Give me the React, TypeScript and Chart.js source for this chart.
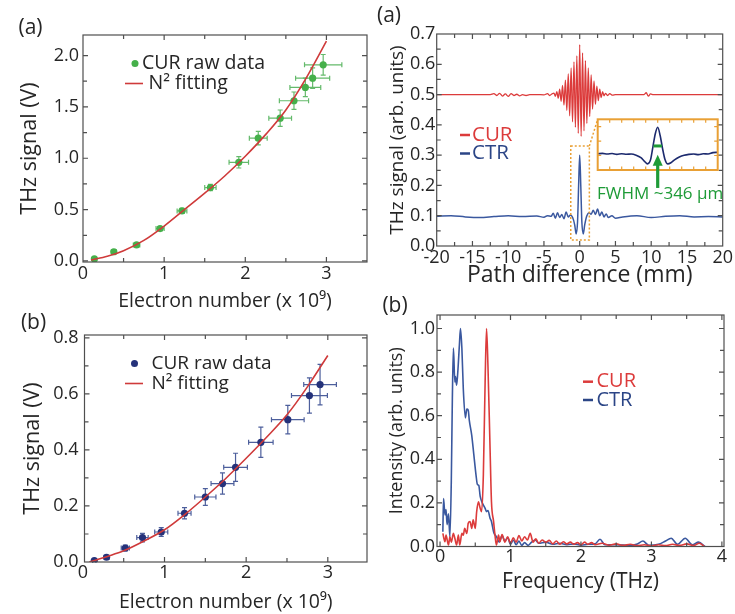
import React, { useEffect, useRef } from "react";
import { Chart, registerables } from "chart.js";

Chart.register(...registerables);

const FONT = "'Open Sans', 'Noto Sans', 'DejaVu Sans', sans-serif";
const INK = "#262626";
const FRAME = "#4f4f4f";
const GREEN = "#45b04a";
const GREEN_ERR = "#64ba6b";
const NAVY = "#25327a";
const NAVY_ERR = "#4d5f9c";
const FIT_RED = "#cf3a3a";
const CUR_RED = "#dc3b3b";
const CTR_BLUE = "#3a589f";
const CTR_TEXT = "#2b4586";
const ORANGE = "#e9a035";
const ARROW_GREEN = "#1e9b37";

// ---------- Panel (a) left : CUR raw data (green) ----------
const aElectron = [0.14, 0.38, 0.66, 0.95, 1.22, 1.57, 1.92, 2.16, 2.43, 2.6, 2.74, 2.83, 2.96];
const aSignal = [0.02, 0.09, 0.156, 0.315, 0.487, 0.715, 0.96, 1.196, 1.39, 1.56, 1.69, 1.78, 1.91];
const aElectronErr = [0.02, 0.03, 0.04, 0.05, 0.06, 0.07, 0.12, 0.11, 0.14, 0.18, 0.19, 0.21, 0.23];
const aSignalErr = [0.005, 0.01, 0.015, 0.02, 0.025, 0.03, 0.055, 0.065, 0.08, 0.085, 0.09, 0.1, 0.1];
const aFitElectron = [0.1, 0.3, 0.5, 0.75, 1.0, 1.25, 1.5, 1.75, 2.0, 2.25, 2.5, 2.75, 3.0];
const aFitSignal = [0.01, 0.045, 0.1, 0.2, 0.34, 0.5, 0.66, 0.83, 1.02, 1.23, 1.47, 1.78, 2.14];
const aXTicks = [0, 1, 2, 3];
const aXLabels = ["0", "1", "2", "3"];
const aXMinor = [0.5, 1.5, 2.5];
const aYTicks = [0, 0.5, 1, 1.5, 2];
const aYLabels = ["0.0", "0.5", "1.0", "1.5", "2.0"];
const aYMinor = [0.25, 0.75, 1.25, 1.75];

// ---------- Panel (b) left : CUR raw data (navy) ----------
const bElectron = [0.14, 0.29, 0.52, 0.73, 0.96, 1.245, 1.5, 1.71, 1.87, 2.18, 2.51, 2.775, 2.905];
const bSignal = [0.005, 0.017, 0.05, 0.087, 0.107, 0.174, 0.232, 0.28, 0.338, 0.427, 0.508, 0.594, 0.633];
const bElectronErr = [0.02, 0.03, 0.05, 0.07, 0.08, 0.08, 0.13, 0.14, 0.145, 0.15, 0.2, 0.22, 0.2];
const bSignalErr = [0.004, 0.006, 0.01, 0.015, 0.016, 0.02, 0.03, 0.038, 0.05, 0.054, 0.051, 0.063, 0.072];
const bFitElectron = [0.08, 0.3, 0.5, 0.75, 1.0, 1.25, 1.5, 1.75, 2.0, 2.25, 2.5, 2.75, 3.0];
const bFitSignal = [0.0, 0.02, 0.04, 0.075, 0.115, 0.17, 0.232, 0.298, 0.37, 0.445, 0.525, 0.625, 0.737];
const bXTicks = [0, 1, 2, 3];
const bXLabels = ["0", "1", "2", "3"];
const bXMinor = [0.5, 1.5, 2.5];
const bYTicks = [0, 0.2, 0.4, 0.6, 0.8];
const bYLabels = ["0.0", "0.2", "0.4", "0.6", "0.8"];
const bYMinor = [0.1, 0.3, 0.5, 0.7];

// ---------- Panel (a) right : interferograms ----------
const cCurPath = [
  -20, -12.5, -12, -11.6, -11.2, -10.8, -10.4, -10, -9.6, -9.2,
  -8.8, -8.4, -8, -7.5, -7, -6, -5, -4.5, -4.2, -3.9,
  -3.6, -3.4, -3.2, -3.0, -2.8, -2.6, -2.4, -2.2, -2.0, -1.8,
  -1.6, -1.4, -1.2, -1.0, -0.8, -0.6, -0.4, -0.2, 0, 0.2,
  0.4, 0.6, 0.8, 1.0, 1.2, 1.4, 1.6, 1.8, 2.0, 2.2,
  2.4, 2.6, 2.8, 3.0, 3.2, 3.4, 3.6,
  3.9, 4.2, 4.6, 5, 6, 9, 9.3, 9.6, 9.9, 10.3, 11, 20,
];
const cCurSignal = [
  0.5, 0.5, 0.503, 0.497, 0.504, 0.495, 0.502, 0.494, 0.503, 0.497,
  0.501, 0.496, 0.5, 0.497, 0.5, 0.5, 0.499, 0.503, 0.497, 0.502,
  0.505, 0.494, 0.51, 0.488, 0.518, 0.478, 0.53, 0.465, 0.548, 0.448,
  0.568, 0.43, 0.588, 0.41, 0.608, 0.392, 0.628, 0.372, 0.665, 0.362,
  0.638, 0.38, 0.612, 0.405, 0.588, 0.428, 0.565, 0.452, 0.545, 0.468,
  0.528, 0.48, 0.518, 0.49, 0.51, 0.496, 0.504,
  0.497, 0.503, 0.498, 0.5, 0.5, 0.5, 0.506, 0.495, 0.502, 0.5, 0.5, 0.5,
];
const cCtrPath = [
  -20, -18, -16, -14, -12, -10, -8, -6, -5, -4.5,
  -4, -3.7, -3.4, -3.1, -2.8, -2.5, -2.2, -1.9, -1.6, -1.3,
  -1.0, -0.7, -0.5, -0.3, -0.15, 0, 0.15, 0.3, 0.5, 0.7,
  1.0, 1.3, 1.6, 1.9, 2.2, 2.5, 2.8, 3.1, 3.4, 3.7,
  4, 4.5, 5, 6, 8, 10, 12, 14, 16, 18, 20,
];
const cCtrSignal = [
  0.098, 0.1, 0.096, 0.094, 0.097, 0.1, 0.097, 0.099, 0.095, 0.1,
  0.098, 0.108, 0.092, 0.11, 0.094, 0.104, 0.09, 0.112, 0.096, 0.102,
  0.095, 0.07, 0.04, 0.08, 0.2, 0.3, 0.2, 0.08, 0.04, 0.07,
  0.1, 0.11, 0.105, 0.118, 0.104, 0.122, 0.1, 0.112, 0.096, 0.106,
  0.094, 0.1, 0.092, 0.096, 0.1, 0.094, 0.098, 0.1, 0.096, 0.097, 0.096,
];
const cXTicks = [-20, -15, -10, -5, 0, 5, 10, 15, 20];
const cXLabels = ["-20", "-15", "-10", "-5", "0", "5", "10", "15", "20"];
const cXMinor = [-17.5, -12.5, -7.5, -2.5, 2.5, 7.5, 12.5, 17.5];
const cYTicks = [0, 0.1, 0.2, 0.3, 0.4, 0.5, 0.6, 0.7];
const cYLabels = ["0.0", "0.1", "0.2", "0.3", "0.4", "0.5", "0.6", "0.7"];
const cYMinor = [0.05, 0.15, 0.25, 0.35, 0.45, 0.55, 0.65];

// inset (zoomed CTR peak, arbitrary inset units)
const insetPos = [-5, -4.6, -4.2, -3.8, -3.4, -3.0, -2.6, -2.2, -1.8, -1.4, -1.1, -0.85, -0.6, -0.4, -0.2, 0, 0.2, 0.4, 0.6, 0.85, 1.1, 1.4, 1.8, 2.2, 2.6, 3.0, 3.4, 3.8, 4.2, 4.6, 5];
const insetSignal = [1.12, 1.15, 1.1, 1.14, 1.08, 1.12, 1.09, 1.1, 1.02, 0.85, 0.6, 0.42, 0.7, 1.6, 2.5, 2.95, 2.4, 1.5, 0.75, 0.42, 0.5, 0.7, 0.9, 1.02, 1.08, 1.1, 1.06, 1.12, 1.1, 1.2, 1.22];
const insetXMinor = [-4, -3, -2, -1, 0, 1, 2, 3, 4];
const insetYMinor = [1, 2, 3];

// ---------- Panel (b) right : spectra ----------
const dCurFreq = [
  0.04, 0.07, 0.085, 0.12, 0.14, 0.16, 0.19, 0.21, 0.235, 0.26,
  0.28, 0.31, 0.33, 0.35, 0.38, 0.4, 0.425, 0.45, 0.47, 0.5,
  0.52, 0.545, 0.57, 0.59, 0.615, 0.64, 0.66, 0.68, 0.71, 0.73,
  0.76, 0.78, 0.8, 0.83, 0.85, 0.88, 0.92, 0.96, 1.0, 1.04,
  1.08, 1.12, 1.16, 1.2, 1.24, 1.28, 1.32, 1.36, 1.4, 1.45,
  1.5, 1.55, 1.6, 1.65, 1.7, 1.75, 1.8, 1.85, 1.9, 1.95,
  2.0, 2.05, 2.1, 2.15, 2.2, 2.3, 2.4, 2.5, 2.6, 2.7,
  2.8, 2.9, 3.0, 3.1, 3.2, 3.3, 3.4, 3.5, 3.6, 3.68, 3.75,
];
const dCurIntensity = [
  0.06, 0.022, 0.052, 0.007, 0.045, 0.02, 0.06, 0.038, 0.007, 0.052,
  0.007, 0.06, 0.052, 0.083, 0.06, 0.107, 0.115, 0.083, 0.122, 0.083,
  0.16, 0.205, 0.175, 0.16, 0.33, 0.755, 1.0, 0.83, 0.45, 0.205,
  0.115, 0.052, 0.007, 0.052, 0.022, 0.055, 0.02, 0.045, 0.015, 0.04,
  0.02, 0.05, 0.025, 0.045, 0.03, 0.06, 0.02, 0.035, 0.015, 0.03,
  0.02, 0.028, 0.012, 0.025, 0.01, 0.022, 0.012, 0.02, 0.01, 0.018,
  0.008, 0.02, 0.01, 0.018, 0.008, 0.015, 0.006, 0.012, 0.005, 0.01,
  0.004, 0.008, 0.003, 0.008, 0.004, 0.01, 0.005, 0.012, 0.004, 0.015, 0.0,
];
const dCtrFreq = [
  0.04, 0.05, 0.07, 0.085, 0.1, 0.12, 0.14, 0.16, 0.175, 0.19,
  0.21, 0.22, 0.235, 0.25, 0.275, 0.29, 0.31, 0.33, 0.36, 0.38,
  0.4, 0.415, 0.45, 0.48, 0.51, 0.53, 0.55, 0.57, 0.6, 0.64,
  0.66, 0.68, 0.71, 0.73, 0.76, 0.78, 0.8, 0.84, 0.88, 0.92,
  0.96, 1.0, 1.04, 1.08, 1.12, 1.16, 1.2, 1.25, 1.3, 1.35,
  1.4, 1.5, 1.6, 1.7, 1.8, 1.9, 2.0, 2.1, 2.2, 2.27,
  2.34, 2.5, 2.7, 2.8, 2.88, 2.96, 3.1, 3.2, 3.28, 3.37,
  3.48, 3.58, 3.67, 3.76,
];
const dCtrIntensity = [
  0.068, 0.22, 0.145, 0.17, 0.1, 0.15, 0.045, 0.3, 0.68, 0.91,
  0.755, 0.78, 0.74, 0.79, 0.925, 1.0, 0.91, 0.725, 0.59, 0.63,
  0.626, 0.58, 0.51, 0.42, 0.33, 0.285, 0.28, 0.23, 0.2, 0.175,
  0.16, 0.165, 0.13, 0.115, 0.068, 0.053, 0.045, 0.02, 0.05, 0.025,
  0.04, 0.01, 0.03, 0.008, 0.025, 0.005, 0.018, 0.005, 0.02, 0.03,
  0.015, 0.02, 0.01, 0.015, 0.008, 0.012, 0.006, 0.01, 0.012, 0.033,
  0.008, 0.008, 0.005, 0.012, 0.025, 0.006, 0.01, 0.025, 0.038, 0.01,
  0.038, 0.008, 0.02, 0.0,
];
const dXTicks = [0, 1, 2, 3, 4];
const dXLabels = ["0", "1", "2", "3", "4"];
const dXMinor = [0.5, 1.5, 2.5, 3.5];
const dYTicks = [0, 0.2, 0.4, 0.6, 0.8, 1.0];
const dYLabels = ["0.0", "0.2", "0.4", "0.6", "0.8", "1.0"];
const dYMinor = [0.1, 0.3, 0.5, 0.7, 0.9];

// ---------- helpers ----------
type Axis = {
  min: number; max: number; ticks: number[]; labels: string[]; minor: number[];
  title: string; titleSize: number; titlePad: number; tickPad: number;
};
type ErrSet = { xs: number[]; ys: number[]; ex: number[]; ey: number[]; color: string };
type Spec = {
  box: number[]; // canvas left, top, width, height (page px)
  area: number[]; // plot area left, top, right, bottom (page px)
  x: Axis; y: Axis;
  datasets: any[];
  errors?: ErrSet[];
  decor?: (chart: any, ctx: CanvasRenderingContext2D, box: number[]) => void;
};

const pts = (xs: number[], ys: number[]) => xs.map((v, i) => ({ x: v, y: ys[i] }));

function pText(ctx: CanvasRenderingContext2D, box: number[], s: string, x: number, y: number, color: string, size: number, align: CanvasTextAlign = "left") {
  ctx.save();
  ctx.font = `${size}px ${FONT}`;
  ctx.fillStyle = color;
  ctx.textAlign = align;
  ctx.textBaseline = "middle";
  ctx.fillText(s, x - box[0], y - box[1]);
  ctx.restore();
}
function pLine(ctx: CanvasRenderingContext2D, box: number[], x1: number, y1: number, x2: number, y2: number, color: string, w: number) {
  ctx.save();
  ctx.strokeStyle = color;
  ctx.lineWidth = w;
  ctx.beginPath();
  ctx.moveTo(x1 - box[0], y1 - box[1]);
  ctx.lineTo(x2 - box[0], y2 - box[1]);
  ctx.stroke();
  ctx.restore();
}
function pDot(ctx: CanvasRenderingContext2D, box: number[], x: number, y: number, r: number, color: string) {
  ctx.save();
  ctx.fillStyle = color;
  ctx.beginPath();
  ctx.arc(x - box[0], y - box[1], r, 0, Math.PI * 2);
  ctx.fill();
  ctx.restore();
}

function makeChart(canvas: HTMLCanvasElement, spec: Spec) {
  const [bl, bt, bw, bh] = spec.box;
  const [al, at, ar, ab] = spec.area;
  const axisOpts = (ax: Axis, horizontal: boolean) => ({
    type: "linear",
    min: ax.min,
    max: ax.max,
    position: horizontal ? "bottom" : "left",
    grid: { display: false, drawTicks: false },
    border: { display: false },
    ticks: {
      padding: ax.tickPad,
      color: INK,
      font: { family: FONT, size: 18 },
      maxRotation: 0,
      minRotation: 0,
      autoSkip: false,
      callback: (v: number) => {
        const i = ax.ticks.indexOf(v);
        return i >= 0 ? ax.labels[i] : "";
      },
    },
    afterBuildTicks: (s: any) => {
      s.ticks = ax.ticks.map((v) => ({ value: v }));
    },
    afterFit: (s: any) => {
      if (horizontal) s.height = bt + bh - ab;
      else s.width = al - bl;
    },
    title: {
      display: true,
      text: ax.title,
      color: INK,
      font: { family: FONT, size: ax.titleSize, lineHeight: 1 },
      padding: horizontal ? { top: 0, bottom: ax.titlePad } : { top: ax.titlePad, bottom: 0 },
    },
  });

  const framePlugin = {
    id: "frameTicks",
    beforeDatasetsDraw(chart: any) {
      const { ctx, scales } = chart;
      (spec.errors || []).forEach((e) => {
        ctx.save();
        ctx.strokeStyle = e.color;
        ctx.lineWidth = 1.2;
        e.xs.forEach((xv, i) => {
          const yv = e.ys[i];
          const px = scales.x.getPixelForValue(xv);
          const py = scales.y.getPixelForValue(yv);
          const x1 = scales.x.getPixelForValue(xv - e.ex[i]);
          const x2 = scales.x.getPixelForValue(xv + e.ex[i]);
          const y1 = scales.y.getPixelForValue(yv - e.ey[i]);
          const y2 = scales.y.getPixelForValue(yv + e.ey[i]);
          const c = 2.5;
          ctx.beginPath();
          ctx.moveTo(x1, py); ctx.lineTo(x2, py);
          ctx.moveTo(x1, py - c); ctx.lineTo(x1, py + c);
          ctx.moveTo(x2, py - c); ctx.lineTo(x2, py + c);
          ctx.moveTo(px, y1); ctx.lineTo(px, y2);
          ctx.moveTo(px - c, y1); ctx.lineTo(px + c, y1);
          ctx.moveTo(px - c, y2); ctx.lineTo(px + c, y2);
          ctx.stroke();
        });
        ctx.restore();
      });
    },
    afterDatasetsDraw(chart: any) {
      const { ctx, chartArea, scales } = chart;
      const { left, top, right, bottom } = chartArea;
      ctx.save();
      ctx.strokeStyle = FRAME;
      ctx.lineWidth = 1.2;
      ctx.strokeRect(left, top, right - left, bottom - top);
      const xs = [...spec.x.ticks.map((v) => [v, 5]), ...spec.x.minor.map((v) => [v, 4])];
      const ys = [...spec.y.ticks.map((v) => [v, 5]), ...spec.y.minor.map((v) => [v, 4])];
      ctx.beginPath();
      xs.forEach(([v, len]) => {
        const p = scales.x.getPixelForValue(v);
        if (p <= left + 1 || p >= right - 1) return;
        ctx.moveTo(p, bottom); ctx.lineTo(p, bottom - len);
        ctx.moveTo(p, top); ctx.lineTo(p, top + len);
      });
      ys.forEach(([v, len]) => {
        const p = scales.y.getPixelForValue(v);
        if (p <= top + 1 || p >= bottom - 1) return;
        ctx.moveTo(left, p); ctx.lineTo(left + len, p);
        ctx.moveTo(right, p); ctx.lineTo(right - len, p);
      });
      ctx.stroke();
      ctx.restore();
    },
    afterDraw(chart: any) {
      if (spec.decor) spec.decor(chart, chart.ctx, spec.box);
    },
  };

  return new Chart(canvas, {
    type: "scatter",
    data: { datasets: spec.datasets },
    options: {
      responsive: false,
      maintainAspectRatio: false,
      animation: false,
      layout: { padding: { left: 0, top: at - bt, right: bl + bw - ar, bottom: 0 } },
      plugins: { legend: { display: false }, tooltip: { enabled: false } },
      scales: { x: axisOpts(spec.x, true) as any, y: axisOpts(spec.y, false) as any },
    },
    plugins: [framePlugin],
  } as any);
}

// ---------- specs ----------
const specA: Spec = {
  box: [0, 0, 372, 315],
  area: [83, 35, 367, 262],
  x: { min: 0, max: 3.5, ticks: aXTicks, labels: aXLabels, minor: aXMinor, title: "Electron number (x 10\u2079)", titleSize: 19.5, titlePad: 3.5, tickPad: 1 },
  y: { min: -0.01, max: 2.2, ticks: aYTicks, labels: aYLabels, minor: aYMinor, title: "THz signal (V)", titleSize: 21.5, titlePad: 19.5, tickPad: 4 },
  datasets: [
    { data: pts(aFitElectron, aFitSignal), showLine: true, borderColor: FIT_RED, borderWidth: 1.6, pointRadius: 0, cubicInterpolationMode: "monotone" },
    { data: pts(aElectron, aSignal), showLine: false, pointRadius: 3.6, backgroundColor: GREEN, borderWidth: 0 },
  ],
  errors: [{ xs: aElectron, ys: aSignal, ex: aElectronErr, ey: aSignalErr, color: GREEN_ERR }],
  decor: (chart, ctx, box) => {
    pText(ctx, box, "(a)", 30.5, 28.5, INK, 21, "center");
    pDot(ctx, box, 135, 63.5, 3.5, GREEN);
    pText(ctx, box, "CUR raw data", 142, 63.5, INK, 19.5);
    pLine(ctx, box, 125, 83.5, 143, 83.5, FIT_RED, 1.6);
    pText(ctx, box, "N\u00b2 fitting", 148.5, 83.5, INK, 19.5);
  },
};

const specB: Spec = {
  box: [0, 310, 372, 304],
  area: [84.5, 335, 367, 562],
  x: { min: 0.02, max: 3.48, ticks: bXTicks, labels: bXLabels, minor: bXMinor, title: "Electron number (x 10\u2079)", titleSize: 19.5, titlePad: 1.5, tickPad: 0 },
  y: { min: 0, max: 0.81, ticks: bYTicks, labels: bYLabels, minor: bYMinor, title: "THz signal (V)", titleSize: 21.5, titlePad: 22, tickPad: 6 },
  datasets: [
    { data: pts(bFitElectron, bFitSignal), showLine: true, borderColor: FIT_RED, borderWidth: 1.6, pointRadius: 0, cubicInterpolationMode: "monotone" },
    { data: pts(bElectron, bSignal), showLine: false, pointRadius: 3.6, backgroundColor: NAVY, borderWidth: 0 },
  ],
  errors: [{ xs: bElectron, ys: bSignal, ex: bElectronErr, ey: bSignalErr, color: NAVY_ERR }],
  decor: (chart, ctx, box) => {
    pText(ctx, box, "(b)", 33.5, 323, INK, 21, "center");
    pDot(ctx, box, 134.5, 363.5, 3.5, NAVY);
    pText(ctx, box, "CUR raw data", 151.5, 363.5, INK, 19);
    pLine(ctx, box, 125, 383.5, 143, 383.5, FIT_RED, 1.6);
    pText(ctx, box, "N\u00b2 fitting", 151.5, 383.5, INK, 19);
  },
};

const INSET_BOX = [595, 117, 126, 86];
const INSET_AREA = [597.7, 119.3, 717.7, 170];

const specC: Spec = {
  box: [372, 0, 363, 292],
  area: [436.7, 34, 722.7, 246],
  x: { min: -20, max: 20, ticks: cXTicks, labels: cXLabels, minor: cXMinor, title: "Path difference (mm)", titleSize: 23, titlePad: 5.5, tickPad: 1.5 },
  y: { min: 0, max: 0.7, ticks: cYTicks, labels: cYLabels, minor: cYMinor, title: "THz signal (arb. units)", titleSize: 19, titlePad: 16.5, tickPad: 1.5 },
  datasets: [
    { data: pts(cCurPath, cCurSignal), showLine: true, borderColor: CUR_RED, borderWidth: 1.3, pointRadius: 0, cubicInterpolationMode: "monotone" },
    { data: pts(cCtrPath, cCtrSignal), showLine: true, borderColor: CTR_BLUE, borderWidth: 1.5, pointRadius: 0, cubicInterpolationMode: "monotone" },
  ],
  decor: (chart, ctx, box) => {
    const { x, y } = chart.scales;
    const bx1 = x.getPixelForValue(-1.25), bx2 = x.getPixelForValue(1.35);
    const by1 = y.getPixelForValue(0.33), by2 = y.getPixelForValue(0.02);
    ctx.save();
    ctx.strokeStyle = ORANGE;
    ctx.lineWidth = 1.5;
    ctx.setLineDash([2, 2]);
    ctx.strokeRect(bx1, by1, bx2 - bx1, by2 - by1);
    ctx.beginPath();
    ctx.moveTo(bx2, by1);
    ctx.lineTo(INSET_AREA[0] - box[0], INSET_AREA[1] - box[1]);
    ctx.stroke();
    ctx.restore();
    pText(ctx, box, "FWHM ~346 \u00b5m", 597, 194, ARROW_GREEN, 17);
    pText(ctx, box, "(a)", 389, 16, INK, 21, "center");
    pLine(ctx, box, 460, 135, 470, 135, CUR_RED, 2.5);
    pText(ctx, box, "CUR", 472, 135, CUR_RED, 20.5);
    pLine(ctx, box, 460, 153.5, 470, 153.5, CTR_TEXT, 2.5);
    pText(ctx, box, "CTR", 472, 153.5, CTR_TEXT, 20.5);
  },
};

const specD: Spec = {
  box: [372, 295, 363, 319],
  area: [437, 315, 724, 546.5],
  x: { min: -0.043, max: 4.03, ticks: dXTicks, labels: dXLabels, minor: dXMinor, title: "Frequency (THz)", titleSize: 21, titlePad: 21, tickPad: 0 },
  y: { min: 0, max: 1.062, ticks: dYTicks, labels: dYLabels, minor: dYMinor, title: "Intensity (arb. units)", titleSize: 18, titlePad: 15.7, tickPad: 2 },
  datasets: [
    { data: pts(dCurFreq, dCurIntensity), showLine: true, borderColor: CUR_RED, borderWidth: 1.6, pointRadius: 0, cubicInterpolationMode: "monotone" },
    { data: pts(dCtrFreq, dCtrIntensity), showLine: true, borderColor: CTR_BLUE, borderWidth: 1.6, pointRadius: 0, cubicInterpolationMode: "monotone" },
  ],
  decor: (chart, ctx, box) => {
    pText(ctx, box, "(b)", 395, 306, INK, 21, "center");
    pLine(ctx, box, 583, 381.7, 593, 381.7, CUR_RED, 2.5);
    pText(ctx, box, "CUR", 596.5, 381.7, CUR_RED, 20);
    pLine(ctx, box, 583, 400, 593, 400, CTR_TEXT, 2.5);
    pText(ctx, box, "CTR", 596.5, 400, CTR_TEXT, 20);
  },
};

function makeInset(canvas: HTMLCanvasElement) {
  const [bl, bt, bw, bh] = INSET_BOX;
  const [al, at, ar, ab] = INSET_AREA;
  const insetPlugin = {
    id: "insetDecor",
    afterDatasetsDraw(chart: any) {
      const { ctx, chartArea, scales } = chart;
      const { left, top, right, bottom } = chartArea;
      const { x, y } = scales;
      ctx.save();
      ctx.strokeStyle = ORANGE;
      ctx.lineWidth = 2;
      ctx.strokeRect(left, top, right - left, bottom - top);
      ctx.lineWidth = 1.2;
      ctx.beginPath();
      insetXMinor.forEach((v) => {
        const p = x.getPixelForValue(v);
        ctx.moveTo(p, top); ctx.lineTo(p, top + 3.5);
        ctx.moveTo(p, bottom); ctx.lineTo(p, bottom - 3.5);
      });
      insetYMinor.forEach((v) => {
        const p = y.getPixelForValue(v);
        ctx.moveTo(left, p); ctx.lineTo(left + 3.5, p);
        ctx.moveTo(right, p); ctx.lineTo(right - 3.5, p);
      });
      ctx.stroke();
      ctx.strokeStyle = ARROW_GREEN;
      ctx.lineWidth = 3;
      ctx.beginPath();
      ctx.moveTo(x.getPixelForValue(-0.35), y.getPixelForValue(1.66));
      ctx.lineTo(x.getPixelForValue(0.35), y.getPixelForValue(1.66));
      ctx.stroke();
      const ax = x.getPixelForValue(0);
      const tip = y.getPixelForValue(1.05);
      const base = y.getPixelForValue(-1.24);
      ctx.lineWidth = 3.2;
      ctx.beginPath();
      ctx.moveTo(ax, base);
      ctx.lineTo(ax, tip + 10);
      ctx.stroke();
      ctx.fillStyle = ARROW_GREEN;
      ctx.beginPath();
      ctx.moveTo(ax, tip);
      ctx.lineTo(ax - 5, tip + 11);
      ctx.lineTo(ax + 5, tip + 11);
      ctx.closePath();
      ctx.fill();
      ctx.restore();
    },
  };
  return new Chart(canvas, {
    type: "scatter",
    data: {
      datasets: [
        { data: pts(insetPos, insetSignal), showLine: true, borderColor: "#1c2a6e", borderWidth: 1.6, pointRadius: 0, cubicInterpolationMode: "monotone" },
      ],
    },
    options: {
      responsive: false,
      maintainAspectRatio: false,
      animation: false,
      layout: { padding: { left: al - bl, top: at - bt, right: bl + bw - ar, bottom: bt + bh - ab } },
      plugins: { legend: { display: false }, tooltip: { enabled: false } },
      scales: {
        x: { type: "linear", min: -5, max: 5, display: false },
        y: { type: "linear", min: 0, max: 3.5, display: false },
      },
    },
    plugins: [insetPlugin],
  } as any);
}

function Panel({ spec }: { spec: Spec }) {
  const ref = useRef<HTMLCanvasElement>(null);
  useEffect(() => {
    const chart = makeChart(ref.current!, spec);
    return () => chart.destroy();
  }, []);
  const [l, t, w, h] = spec.box;
  return <canvas ref={ref} width={w} height={h} style={{ position: "absolute", left: l, top: t, width: w, height: h }} />;
}

function Inset() {
  const ref = useRef<HTMLCanvasElement>(null);
  useEffect(() => {
    const chart = makeInset(ref.current!);
    return () => chart.destroy();
  }, []);
  const [l, t, w, h] = INSET_BOX;
  return <canvas ref={ref} width={w} height={h} style={{ position: "absolute", left: l, top: t, width: w, height: h }} />;
}

export default function App() {
  return (
    <div style={{ position: "absolute", left: 0, top: 0, width: 735, height: 614, background: "#ffffff", overflow: "hidden" }}>
      <Panel spec={specA} />
      <Panel spec={specB} />
      <Panel spec={specC} />
      <Panel spec={specD} />
      <Inset />
    </div>
  );
}
